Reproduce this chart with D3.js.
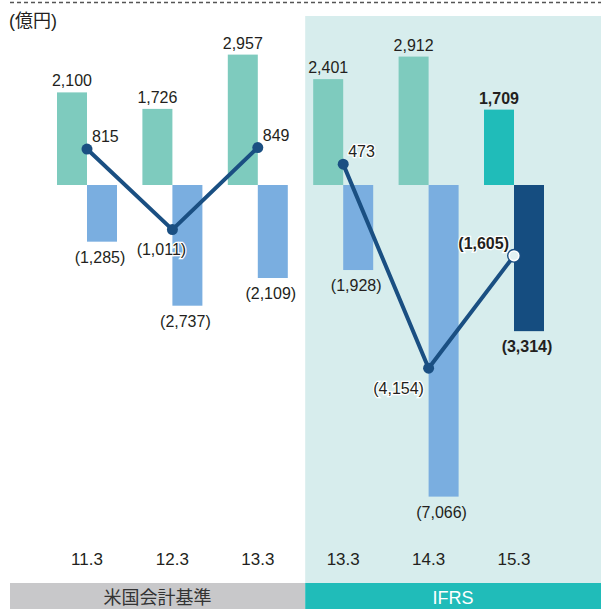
<!DOCTYPE html>
<html>
<head>
<meta charset="utf-8">
<script src="https://cdn.jsdelivr.net/npm/d3@7"></script>
<style>
  body { margin: 0; background: #fff; }
  text { font-family: "Liberation Sans", Arial, "Noto Sans CJK JP", sans-serif; fill: #231f20; }
</style>
</head>
<body>
<div id="chart"></div>
<script>
// Data
//-----
var periods = ["11.3", "12.3", "13.3", "13.3", "14.3", "15.3"];
var standards = ["米国会計基準", "米国会計基準", "米国会計基準", "IFRS", "IFRS", "IFRS"];
var operatingCF = [2100, 1726, 2957, 2401, 2912, 1709];
var investingCF = [-1285, -2737, -2109, -1928, -7066, -3314];
var freeCF = [815, -1011, 849, 473, -4154, -1605];

// Sizing
//-------
var svgWidth = 601;
var svgHeight = 609;

var svg = d3.select("#chart")
  .append("svg")
  .attr("width", svgWidth)
  .attr("height", svgHeight);

var idx = d3.range(periods.length);

var x = d3.scaleBand()
  .domain(idx)
  .range([44.3, 556.7]);

var y = d3.scaleLinear()
  .domain([-8000, 3000])
  .range([537.8, 52.7]);

var barW = 30;
var cx = i => x(i) + x.bandwidth() / 2;
var isLast = i => i === periods.length - 1;

// IFRS background
var ifrsStart = standards.indexOf("IFRS");
var splitX = cx(ifrsStart) - 38;

svg.append("rect")
  .attr("x", splitX)
  .attr("y", 16)
  .attr("width", svgWidth - splitX)
  .attr("height", 583 - 16)
  .attr("fill", "#d7eded");

// dashed top rule
svg.append("line")
  .attr("x1", 10).attr("x2", svgWidth)
  .attr("y1", 2.5).attr("y2", 2.5)
  .attr("stroke", "#555")
  .attr("stroke-width", 1.3)
  .attr("stroke-dasharray", "4,3");

// unit
svg.append("text")
  .attr("x", 9)
  .attr("y", 27)
  .attr("font-size", 18)
  .attr("fill", "#444")
  .text("(億円)");

// bars
//-----
svg.append("g").selectAll("rect")
  .data(idx)
  .enter()
  .append("rect")
  .attr("x", i => cx(i) - barW)
  .attr("y", i => y(operatingCF[i]))
  .attr("width", barW)
  .attr("height", i => y(0) - y(operatingCF[i]))
  .attr("fill", i => isLast(i) ? "#20bcb9" : "#7ecbbe");

svg.append("g").selectAll("rect")
  .data(idx)
  .enter()
  .append("rect")
  .attr("x", i => cx(i))
  .attr("y", y(0))
  .attr("width", barW)
  .attr("height", i => y(investingCF[i]) - y(0))
  .attr("fill", i => isLast(i) ? "#154d80" : "#7aaee0");

// bar labels
var fmt = v => v < 0 ? "(" + d3.format(",")(-v) + ")" : d3.format(",")(v);
var fontSize = 16;

svg.append("g").selectAll("text")
  .data(idx)
  .enter()
  .append("text")
  .attr("x", i => cx(i) - barW / 2)
  .attr("y", i => y(operatingCF[i]) - 6)
  .attr("text-anchor", "middle")
  .attr("font-size", fontSize)
  .attr("font-weight", i => isLast(i) ? "bold" : "normal")
  .text(i => fmt(operatingCF[i]));

svg.append("g").selectAll("text")
  .data(idx)
  .enter()
  .append("text")
  .attr("x", i => cx(i) + barW / 2 - 2)
  .attr("y", i => y(investingCF[i]) + 21)
  .attr("text-anchor", "middle")
  .attr("font-size", fontSize)
  .attr("font-weight", i => isLast(i) ? "bold" : "normal")
  .text(i => fmt(investingCF[i]));

// free cash flow line, one per accounting standard
//-------------------------------------------------
var lineColor = "#1a4f82";
var segments = d3.groups(idx, i => standards[i]).map(g => g[1]);

svg.append("g").selectAll("path")
  .data(segments)
  .enter()
  .append("path")
  .attr("fill", "none")
  .attr("stroke", lineColor)
  .attr("stroke-width", 4)
  .attr("stroke-linejoin", "round")
  .attr("d", d3.line().x(i => cx(i)).y(i => y(freeCF[i])));

svg.append("g").selectAll("circle")
  .data(idx)
  .enter()
  .append("circle")
  .attr("cx", i => cx(i))
  .attr("cy", i => y(freeCF[i]))
  .attr("r", i => isLast(i) ? 7 : 5.5)
  .attr("fill", lineColor);

// open marker on the last point
var lastI = periods.length - 1;
svg.append("circle")
  .attr("cx", cx(lastI))
  .attr("cy", y(freeCF[lastI]))
  .attr("r", 4.8)
  .attr("fill", "#e2f1f3")
  .attr("stroke", "#fff")
  .attr("stroke-width", 1.6);

// line labels (anchor, dx, dy)
var lineLabelPlace = [
  ["start", 5, -7], ["middle", -11, 25], ["start", 5, -7],
  ["start", 5, -7], ["middle", -30, 26], ["end", -5, -7]
];

svg.append("g").selectAll("text")
  .data(idx)
  .enter()
  .append("text")
  .attr("x", i => cx(i) + lineLabelPlace[i][1])
  .attr("y", i => y(freeCF[i]) + lineLabelPlace[i][2])
  .attr("text-anchor", i => lineLabelPlace[i][0])
  .attr("font-size", fontSize)
  .attr("font-weight", i => isLast(i) ? "bold" : "normal")
  .attr("stroke", "#fff")
  .attr("stroke-width", 2.5)
  .attr("paint-order", "stroke")
  .text(i => fmt(freeCF[i]));

// x labels
//---------
svg.append("g").selectAll("text")
  .data(idx)
  .enter()
  .append("text")
  .attr("x", i => cx(i))
  .attr("y", 565)
  .attr("text-anchor", "middle")
  .attr("font-size", 17)
  .text(i => periods[i]);

// standard bands
//---------------
var bands = [
  { name: standards[0], x0: 10, x1: splitX, fill: "#c8c8ca", color: "#333" },
  { name: standards[ifrsStart], x0: splitX, x1: svgWidth, fill: "#20bcb9", color: "#fff" }
];

var bandG = svg.append("g").selectAll("g")
  .data(bands)
  .enter()
  .append("g");

bandG.append("rect")
  .attr("x", d => d.x0)
  .attr("y", 583)
  .attr("width", d => d.x1 - d.x0)
  .attr("height", svgHeight - 583)
  .attr("fill", d => d.fill);

bandG.append("text")
  .attr("x", d => (d.x0 + d.x1) / 2)
  .attr("y", 604)
  .attr("text-anchor", "middle")
  .attr("font-size", 18)
  .style("fill", d => d.color)
  .text(d => d.name);
</script>
</body>
</html>
